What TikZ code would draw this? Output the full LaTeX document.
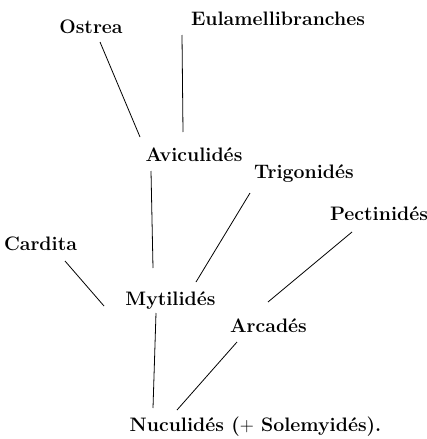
\documentclass[tikz,border=0pt]{standalone}
\usepackage{fontspec}
\begin{document}
\begin{tikzpicture}[x=1pt,y=-1pt,
  lbl/.style={inner sep=0pt,font=\fontsize{19.5}{22}\selectfont\bfseries},
  br/.style={line width=0.8pt}]
\useasboundingbox (0,0) rectangle (427,439);
\node[lbl] (ostrea) at (91,27) {Ostrea};
\node[lbl] (eula) at (278,18.5) {Eulamellibranches};
\node[lbl] (avic) at (194,154.5) {Aviculidés};
\node[lbl] (trig) at (304,174) {Trigonidés};
\node[lbl] (pect) at (379,213.5) {Pectinidés};
\node[lbl] (card) at (40.5,243.5) {Cardita};
\node[lbl] (myti) at (170.5,301) {Mytilidés};
\node[lbl] (arca) at (268.5,325.5) {Arcadés};
\node[lbl] (nucu) at (255.5,427) {Nuculidés (\mdseries+\bfseries\ Solemyidés).};
\coordinate (o1) at (100,42);  \coordinate (o2) at (140,137);
\coordinate (e1) at (182,35);  \coordinate (e2) at (183,132);
\coordinate (a1) at (151,171); \coordinate (a2) at (153,268);
\coordinate (t1) at (250,193); \coordinate (t2) at (196,282);
\coordinate (p1) at (352,232); \coordinate (p2) at (268,302);
\coordinate (c1) at (65,261);  \coordinate (c2) at (104,306);
\coordinate (m1) at (156,313); \coordinate (m2) at (153,408);
\coordinate (r1) at (237,342); \coordinate (r2) at (177,410);
\draw[br] (o1) -- (o2);
\draw[br] (e1) -- (e2);
\draw[br] (a1) -- (a2);
\draw[br] (t1) -- (t2);
\draw[br] (p1) -- (p2);
\draw[br] (c1) -- (c2);
\draw[br] (m1) -- (m2);
\draw[br] (r1) -- (r2);
\end{tikzpicture}
\end{document}
